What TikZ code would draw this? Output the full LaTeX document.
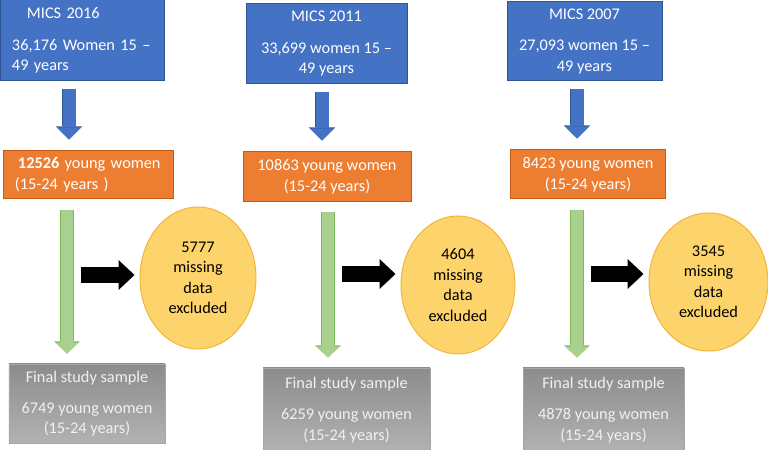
\documentclass[tikz,border=0pt]{standalone}
\usepackage{fontspec}
\setmainfont{Carlito}
\usetikzlibrary{arrows.meta,shapes.geometric,calc}
\definecolor{bluefill}{HTML}{4472C4}
\definecolor{blueline}{HTML}{2F5597}
\definecolor{orangefill}{HTML}{ED7D31}
\definecolor{orangeline}{HTML}{C55A11}
\definecolor{greenfill}{HTML}{A9D18E}
\definecolor{greenline}{HTML}{7DB85A}
\definecolor{missfill}{HTML}{FDD46B}
\definecolor{missline}{HTML}{F2B53A}
\definecolor{graytop}{HTML}{8C8C8C}
\definecolor{graybot}{HTML}{B2B2B2}
\definecolor{grayline}{HTML}{A6A6A6}
\definecolor{graytext}{HTML}{F0F0F0}

\tikzset{
  flow schemes/.style = {
    x=1bp, y=-1bp,
    line width = 1pt,
    % Boxes
    sn/.style  = {
      draw, inner xsep=12bp, inner ysep=0pt,
      font=\fontsize{16.3bp}{20.5bp}\selectfont,
      align=center
    },
    bsn/.style = { sn, fill=bluefill, draw=blueline, text=white },
    osn/.style = { sn, fill=orangefill, draw=orangeline, text=white },
    gsn/.style = { sn, top color=graytop, bottom color=graybot,
                   draw=grayline, text=graytext },
    esn/.style = { sn, ellipse, inner sep=0pt, fill=missfill,
                   draw=missline, text=black },
    % Arrows
    down line/.style  = {draw=bluefill, line width=13bp,
      -{Triangle[width=24bp,length=12bp,line width=0pt]},
      shorten <=8bp, shorten >=11bp,
      preaction = {draw=blueline, line width=14.6bp,
        -{Triangle[width=26.6bp,length=13.2bp,line width=0pt]},
        shorten <=7.2bp, shorten >=11bp} },
    green line/.style = {draw=greenfill, line width=12bp,
      -{Triangle[width=23bp,length=11bp,line width=0pt]},
      shorten <=11bp, shorten >=10bp,
      preaction = {draw=greenline, line width=13.6bp,
        -{Triangle[width=25.6bp,length=12.2bp,line width=0pt]},
        shorten <=10.2bp, shorten >=10bp} },
    miss line/.style  = {draw=black, line width=16bp,
      -{Triangle[width=30bp,length=16bp,line width=0pt]},
      shorten <=14bp, shorten >=5bp },
  }
}

\begin{document}
\begin{tikzpicture}[flow schemes]
\useasboundingbox (0,0) rectangle (768,450);

%--- MICS 2016
\node[bsn, minimum width=164bp, minimum height=81bp, text width=140bp, align=left]
  (mics16) at (82,40.5) {\hspace*{15bp}MICS 2016\\[11bp]36,176 Women 15 –\\49 years};
\node[osn, minimum width=170bp, minimum height=48bp, text width=146bp, align=left]
  (young16) at (88,175) {\hspace*{3bp}\textbf{12526} young women\\(15-24 years )};
\node[gsn, minimum width=156bp, minimum height=79bp]
  (final16) at (87,403.5) {Final study sample\\[10.5bp]6749 young women\\(15-24 years)};
\node[esn, minimum width=116bp, minimum height=142bp]
  (miss16) at (198,278) {5777\\missing\\data\\excluded};
\coordinate (a16) at (69,0);
\coordinate (g16) at (67,275);
\draw[down line]  (a16 |- mics16.south)  -- (a16 |- young16.north);
\draw[green line] (g16 |- young16.south) -- (g16 |- final16.north);
\draw[miss line]  (g16) -- (g16 -| miss16.west);

%--- MICS 2011
\node[bsn, minimum width=161bp, minimum height=80bp]
  (mics11) at (326.5,44) {MICS 2011\\[11bp]33,699 women 15 –\\49 years};
\node[osn, minimum width=168bp, minimum height=49bp]
  (young11) at (327,176.5) {10863 young women\\(15-24 years)};
\node[gsn, minimum width=167bp, minimum height=84bp]
  (final11) at (346.5,410) {Final study sample\\[10.5bp]6259 young women\\(15-24 years)};
\node[esn, minimum width=114bp, minimum height=138bp]
  (miss11) at (458,285) {4604\\missing\\data\\excluded};
\coordinate (a11) at (322,0);
\coordinate (g11) at (328,274);
\draw[down line]  (a11 |- mics11.south)  -- (a11 |- young11.north);
\draw[green line] (g11 |- young11.south) -- (g11 |- final11.north);
\draw[miss line]  (g11) -- (g11 -| miss11.west);

%--- MICS 2007
\node[bsn, minimum width=155bp, minimum height=79bp]
  (mics07) at (584.5,41.5) {MICS 2007\\[11bp]27,093 women 15 –\\49 years};
\node[osn, minimum width=152bp, minimum height=49bp]
  (young07) at (588,174.5) {8423 young women\\(15-24 years)};
\node[gsn, minimum width=161bp, minimum height=84bp]
  (final07) at (603.5,410) {Final study sample\\[10.5bp]4878 young women\\(15-24 years)};
\node[esn, minimum width=119bp, minimum height=138bp]
  (miss07) at (708.5,282) {3545\\missing\\data\\excluded};
\coordinate (a07) at (577,0);
\coordinate (g07) at (577,274);
\draw[down line]  (a07 |- mics07.south)  -- (a07 |- young07.north);
\draw[green line] (g07 |- young07.south) -- (g07 |- final07.north);
\draw[miss line]  (g07) -- (g07 -| miss07.west);

\end{tikzpicture}
\end{document}
